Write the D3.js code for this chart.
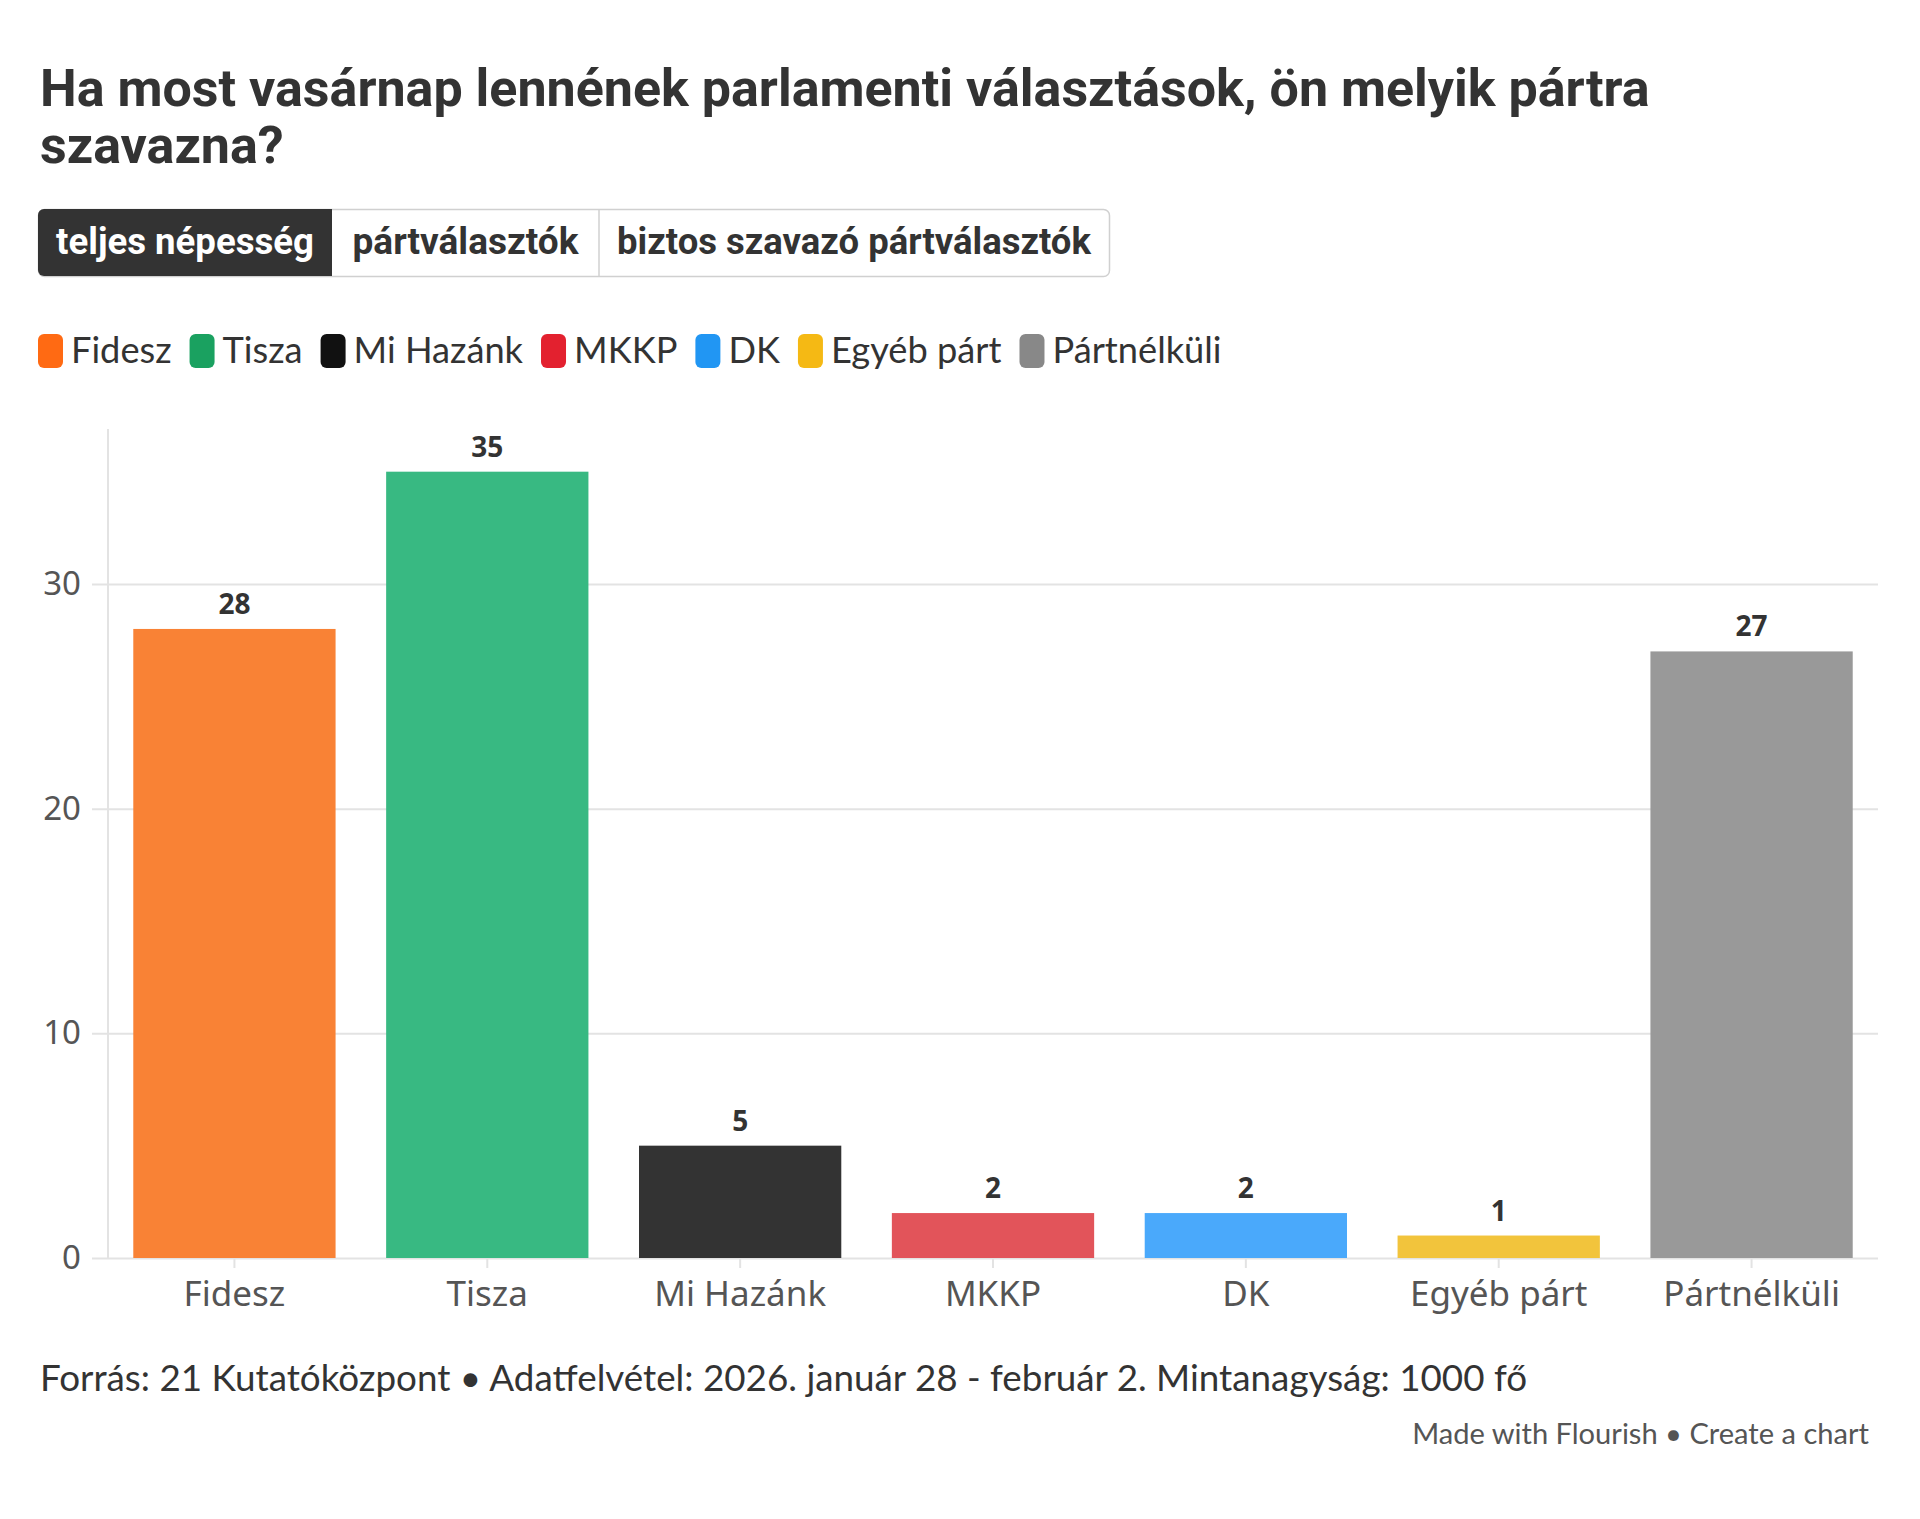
<!DOCTYPE html>
<html>
<head>
<meta charset="utf-8">
<script src="https://cdn.jsdelivr.net/npm/d3@7"></script>
<style>
  body { margin: 0; background: #fff; }
  svg { display: block; }
</style>
</head>
<body>
<svg id="chart" width="1920" height="1519"></svg>
<script>
// data
const parties = ['Fidesz', 'Tisza', 'Mi Hazánk', 'MKKP', 'DK', 'Egyéb párt', 'Pártnélküli'];
const values = [28, 35, 5, 2, 2, 1, 27];
const barColors = ['#f98235', '#38b982', '#333333', '#e2545a', '#4aa9fb', '#f2c43c', '#999999'];
const legendColors = ['#ff6a13', '#1aa160', '#111111', '#e3212f', '#2196f3', '#f5b914', '#888888'];
const yTicks = [0, 10, 20, 30];
const tabs = ['teljes népesség', 'pártválasztók', 'biztos szavazó pártválasztók'];
const titleLines = ['Ha most vasárnap lennének parlamenti választások, ön melyik pártra', 'szavazna?'];
const footnote = 'Forrás: 21 Kutatóközpont • Adatfelvétel: 2026. január 28 - február 2. Mintanagyság: 1000 fő';
const credit = 'Made with Flourish • Create a chart';

const svg = d3.select('#chart');

// shrink/grow a text's font until it spans the wanted width
function fitWidth(sel, target) {
    const fs = parseFloat(sel.attr('font-size'));
    const w = sel.node().getComputedTextLength();
    sel.attr('font-size', fs * target / w);
}

// title
const titleFont = 'Roboto, Lato, sans-serif';
const titleG = svg.append('g');
titleLines.forEach((line, i) => {
    titleG.append('text')
        .attr('x', 40)
        .attr('y', 106 + i * 57)
        .attr('font-family', titleFont)
        .attr('font-weight', 700)
        .attr('font-size', 44)
        .attr('fill', '#333')
        .text(line);
});
fitWidth(titleG.select('text'), 1610);
titleG.selectAll('text').attr('font-size', titleG.select('text').attr('font-size'));

// tab buttons
const tabEdges = [38, 332, 599, 1109];
const tabTop = 209, tabH = 67;
const tabs_g = svg.append('g');
tabs_g.append('rect')
    .attr('x', tabEdges[0] + 0.5).attr('y', tabTop + 0.5)
    .attr('width', tabEdges[3] - tabEdges[0]).attr('height', tabH)
    .attr('rx', 6)
    .attr('fill', '#fff')
    .attr('stroke', '#d0d0d0')
    .attr('stroke-width', 1.5);
tabs_g.append('path')
    .attr('d', `M${tabEdges[1]},${tabTop} H${tabEdges[0] + 6} a6,6 0 0 0 -6,6 V${tabTop + tabH - 6} a6,6 0 0 0 6,6 H${tabEdges[1]} Z`)
    .attr('fill', '#333');
tabs_g.append('line')
    .attr('x1', tabEdges[2]).attr('x2', tabEdges[2])
    .attr('y1', tabTop).attr('y2', tabTop + tabH)
    .attr('stroke', '#d0d0d0').attr('stroke-width', 1.5);
const tabTextWidths = [258, 226, 474];
tabs.forEach((label, i) => {
    const t = tabs_g.append('text')
        .attr('x', (tabEdges[i] + tabEdges[i + 1]) / 2)
        .attr('y', tabTop + tabH / 2 + 11)
        .attr('text-anchor', 'middle')
        .attr('font-family', titleFont)
        .attr('font-weight', 700)
        .attr('font-size', 32)
        .attr('fill', i === 0 ? '#fff' : '#333')
        .text(label);
    fitWidth(t, tabTextWidths[i]);
});

// legend: measure first, then scale font so the row ends where the original does
const legend = svg.append('g');
const legendFont = 'Lato, "Open Sans", sans-serif';
const legendY = 351, swW = 25, swGap = 8, itemGap = 18;
const legendTexts = parties.map(p => legend.append('text')
    .attr('y', legendY + 12)
    .attr('font-family', legendFont)
    .attr('font-size', 35)
    .attr('fill', '#333')
    .text(p));
const rawW = d3.sum(legendTexts, t => t.node().getComputedTextLength());
const wantW = (1222 - 38) - parties.length * (swW + swGap) - (parties.length - 1) * itemGap;
const legendSize = 35 * wantW / rawW;
let lx = 38;
legendTexts.forEach((t, i) => {
    legend.append('rect')
        .attr('x', lx).attr('y', legendY - 17)
        .attr('width', swW).attr('height', 34)
        .attr('rx', 6)
        .attr('fill', legendColors[i]);
    t.attr('font-size', legendSize).attr('x', lx + swW + swGap);
    lx += swW + swGap + t.node().getComputedTextLength() + itemGap;
});

// chart area
const x = d3.scaleBand()
    .domain(parties)
    .range([108, 1878])
    .paddingInner(0.2)
    .paddingOuter(0.1);
const y = d3.scaleLinear()
    .domain([0, 36.9])
    .range([1258, 429]);

const axisFont = '"Noto Sans", "Open Sans", sans-serif';

// gridlines + y labels
const yAxis = svg.append('g')
    .attr('transform', 'translate(108,0)')
    .call(d3.axisLeft(y).tickValues(yTicks).tickSize(16).tickPadding(10));
yAxis.select('.domain').remove();
yAxis.selectAll('.tick line')
    .attr('stroke', '#e3e3e3')
    .attr('stroke-width', 2)
    .attr('x2', 1878 - 108)
    .attr('x1', -16);
yAxis.selectAll('.tick text')
    .attr('font-family', axisFont)
    .attr('font-size', 33)
    .attr('fill', '#555')
    .attr('x', -27);

svg.append('line')
    .attr('x1', 108).attr('x2', 108)
    .attr('y1', 429).attr('y2', 1258)
    .attr('stroke', '#e3e3e3').attr('stroke-width', 2);

// bars
svg.append('g').selectAll('rect')
    .data(values)
    .join('rect')
    .attr('x', (d, i) => x(parties[i]))
    .attr('y', d => y(d))
    .attr('width', x.bandwidth())
    .attr('height', d => y(0) - y(d))
    .attr('fill', (d, i) => barColors[i]);

// value labels
svg.append('g').selectAll('text')
    .data(values)
    .join('text')
    .attr('x', (d, i) => x(parties[i]) + x.bandwidth() / 2)
    .attr('y', d => y(d) - 15)
    .attr('text-anchor', 'middle')
    .attr('font-family', axisFont)
    .attr('font-weight', 700)
    .attr('font-size', 28)
    .attr('fill', '#333')
    .text(d => d);

// x axis
const xAxis = svg.append('g')
    .attr('transform', 'translate(0,1258)')
    .call(d3.axisBottom(x).tickSize(10).tickPadding(10));
xAxis.select('.domain').remove();
xAxis.selectAll('.tick line').attr('stroke', '#e3e3e3').attr('stroke-width', 2);
xAxis.selectAll('.tick text')
    .attr('font-family', axisFont)
    .attr('font-size', 35)
    .attr('fill', '#555')
    .attr('dy', '0.8em');

// footer
const foot = svg.append('text')
    .attr('x', 40).attr('y', 1391)
    .attr('font-family', legendFont)
    .attr('font-size', 34)
    .attr('fill', '#333')
    .text(footnote);
fitWidth(foot, 1488);

const cred = svg.append('text')
    .attr('x', 1869).attr('y', 1444)
    .attr('text-anchor', 'end')
    .attr('font-family', legendFont)
    .attr('font-size', 27)
    .attr('fill', '#555')
    .text(credit);
fitWidth(cred, 1869 - 1412);
</script>
</body>
</html>
